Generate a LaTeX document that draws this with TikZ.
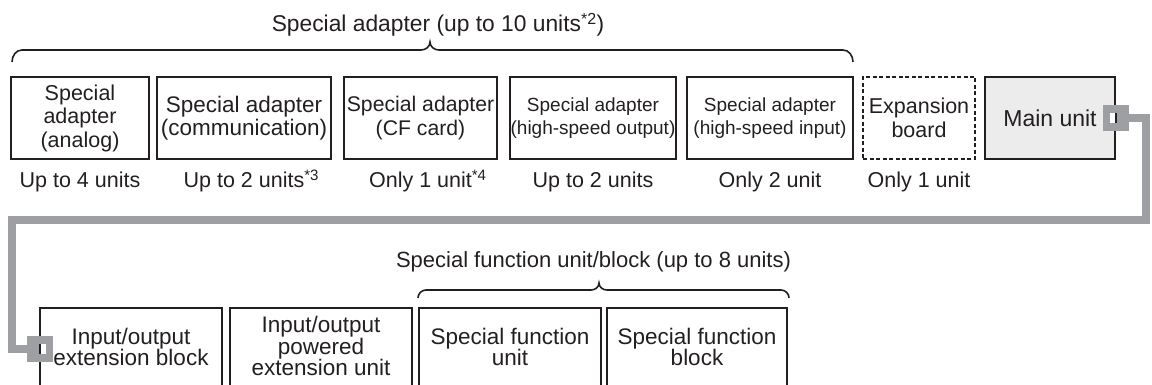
\documentclass[tikz,border=0pt]{standalone}
\usepackage{fontspec}
\setmainfont{Liberation Sans}
\definecolor{ink}{HTML}{231F20}
\definecolor{connc}{HTML}{9D9FA2}
\definecolor{mainfill}{HTML}{ECECEC}
\newcommand\fnta{\fontsize{21.5}{23.5}\selectfont}
\newcommand\fntb{\fontsize{21.2}{23.5}\selectfont}
\newcommand\fntc{\fontsize{19}{23.5}\selectfont}
\newcommand\fntd{\fontsize{22.5}{21.5}\selectfont}
\newcommand\fnte{\fontsize{22.5}{23.5}\selectfont}
\begin{document}
\begin{tikzpicture}[x=1pt,y=1pt,
  box/.style={draw=ink, line width=1.8pt, inner sep=0pt, align=center, text=ink, minimum height=82pt, font=\fnta},
  lowbox/.style={draw=ink, line width=1.8pt, inner sep=0pt, minimum height=120pt, anchor=north},
  lowtxt/.style={inner sep=0pt, align=center, text=ink, font=\fntd},
  lbl/.style={inner sep=0pt, anchor=base, text=ink, font=\fontsize{21.5}{24}\selectfont},
  ttl/.style={inner sep=0pt, anchor=base, text=ink, font=\fontsize{22.8}{25}\selectfont},
  bracel/.style={draw=ink, line width=1.6pt},
  sq/.style={fill=connc, minimum size=26pt, inner sep=0pt},
  connline/.style={draw=connc, line width=8pt, line join=miter}
]
\useasboundingbox (0,0) rectangle (1152,-385);

% top title and brace
\node[ttl] (t1) at (438,-32) {Special adapter (up to 10 units\textsuperscript{*2})};
\draw[bracel] (12,-62) to[out=90,in=180] (22,-50) -- (421,-50) to[out=0,in=-90] (430,-42)
  to[out=-90,in=180] (439,-50) -- (843,-50) to[out=0,in=90] (853,-62);

% top row boxes
\node[box, minimum width=138pt] (sa1) at (80,-118) {Special\\adapter\\(analog)};
\node[box, minimum width=174pt, font=\fnte] (sa2) at (244,-118) {Special adapter\\(communication)};
\node[box, minimum width=153pt, font=\fntb] (sa3) at (420.5,-118) {Special adapter\\(CF card)};
\node[box, minimum width=166pt, font=\fntc] (sa4) at (593,-118) {Special adapter\\(high-speed output)};
\node[box, minimum width=166pt, font=\fntc] (sa5) at (770,-118) {Special adapter\\(high-speed input)};
\node[box, minimum width=112pt, dash pattern=on 4pt off 2.5pt] (exb) at (919,-118) {Expansion\\board};
\node[box, minimum width=130pt, fill=mainfill, font=\fontsize{23}{25}\selectfont] (main) at (1050,-118) {Main unit};

% labels
\node[lbl] (l1) at (80,-188) {Up to 4 units};
\node[lbl] (l2) at (244,-188) {Up to 2 units\rlap{\textsuperscript{*3}}};
\node[lbl] (l3) at (420.5,-188) {Only 1 unit\rlap{\textsuperscript{*4}}};
\node[lbl] (l4) at (593,-188) {Up to 2 units};
\node[lbl] (l5) at (770,-188) {Only 2 unit};
\node[lbl] (l6) at (919,-188) {Only 1 unit};

% bottom title and brace
\node[ttl, font=\fontsize{22}{25}\selectfont] (t2) at (593.5,-267) {Special function unit/block (up to 8 units)};
\draw[bracel] (418,-298) to[out=90,in=180] (426,-290) -- (591,-290) to[out=0,in=-90] (599,-283)
  to[out=-90,in=180] (607,-290) -- (781,-290) to[out=0,in=90] (789,-298);

% bottom row boxes
\node[lowbox, minimum width=182pt] (io) at (131,-307) {};
\node[lowbox, minimum width=182pt] (pw) at (321,-307) {};
\node[lowbox, minimum width=182pt] (sfu) at (510,-307) {};
\node[lowbox, minimum width=180pt] (sfb) at (697,-307) {};
\node[lowtxt] (iot) at (131,-347) {Input/output\\extension block};
\node[lowtxt] (pwt) at (321,-346) {Input/output\\powered\\extension unit};
\node[lowtxt] (sfut) at (510,-347) {Special function\\unit};
\node[lowtxt] (sfbt) at (697,-347) {Special function\\block};

% connector squares
\node[sq] (msq) at (main.east) {};
\fill[white] ([xshift=-6pt,yshift=-5pt]main.east) rectangle ([yshift=5pt]main.east);
\draw[ink, line width=1.8pt] ([yshift=-5pt]main.east) -- ([yshift=5pt]main.east);
\node[sq] (esq) at (40,-349) {};
\fill[white] ([yshift=-5pt]esq.center) rectangle ([xshift=6pt,yshift=5pt]esq.center);
\draw[ink, line width=1.8pt] ([yshift=-5pt]esq.center) -- ([yshift=5pt]esq.center);

% connector cable
\coordinate (c1) at (1146,-220);
\coordinate (c2) at (12,-220);
\draw[connline] (msq.east) -| (c1) -- (c2) |- (esq.west);
\end{tikzpicture}
\end{document}
